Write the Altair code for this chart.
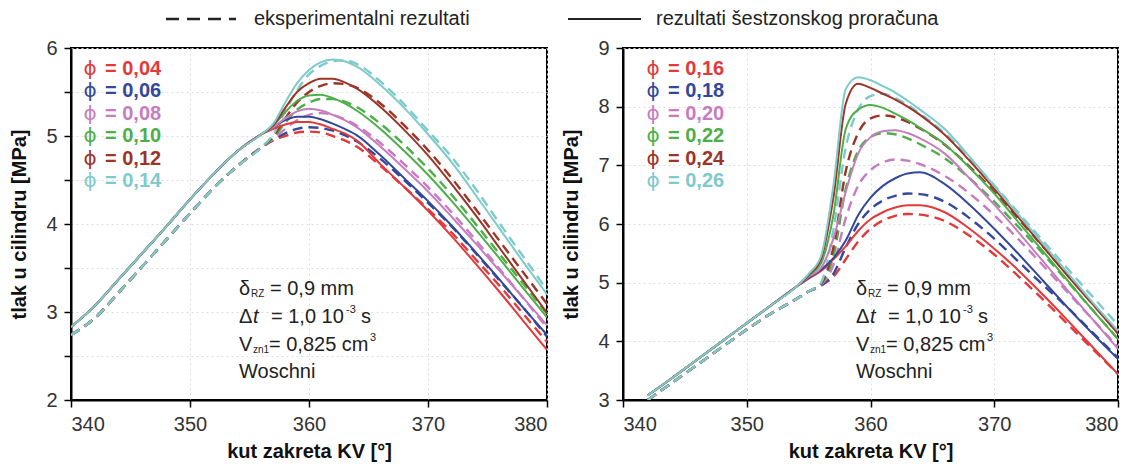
import altair as alt
import pandas as pd

FONT = "Liberation Sans"

# ---------------- data ----------------
x_left = [340, 342, 344, 346, 348, 350, 352, 354, 356, 357, 358, 359, 360, 361, 362,
          363, 364, 366, 368, 370, 372, 374, 376, 378, 380]
x_right = [342, 344, 346, 348, 350, 352, 354, 355, 356, 357, 358, 359, 360, 361, 362,
           363, 364, 366, 368, 370, 372, 374, 376, 378, 380]

phi_left = ["0,04", "0,06", "0,08", "0,10", "0,12", "0,14"]
phi_right = ["0,16", "0,18", "0,20", "0,22", "0,24", "0,26"]
colors = ["#E2393B", "#33489A", "#C77CC0", "#4DAE4A", "#9C3428", "#7FCACB"]

# left panel - six-zone calculation (solid)
calc_left_004 = [2.83, 3.07, 3.37, 3.67, 3.97, 4.28, 4.57, 4.83, 5.02, 5.08, 5.13, 5.16, 5.16, 5.13, 5.08, 5.03, 4.95, 4.68, 4.42, 4.15, 3.86, 3.55, 3.23, 2.90, 2.57]
calc_left_006 = [2.83, 3.07, 3.37, 3.67, 3.97, 4.28, 4.57, 4.83, 5.02, 5.10, 5.18, 5.22, 5.22, 5.19, 5.14, 5.08, 5.01, 4.78, 4.52, 4.26, 3.98, 3.68, 3.37, 3.05, 2.74]
calc_left_008 = [2.83, 3.07, 3.37, 3.67, 3.97, 4.28, 4.57, 4.83, 5.02, 5.10, 5.20, 5.28, 5.31, 5.29, 5.24, 5.18, 5.10, 4.88, 4.63, 4.37, 4.08, 3.78, 3.47, 3.16, 2.85]
calc_left_010 = [2.83, 3.07, 3.37, 3.67, 3.97, 4.28, 4.57, 4.83, 5.02, 5.12, 5.27, 5.40, 5.46, 5.47, 5.43, 5.37, 5.29, 5.08, 4.83, 4.56, 4.26, 3.94, 3.61, 3.27, 2.94]
calc_left_012 = [2.83, 3.07, 3.37, 3.67, 3.97, 4.28, 4.57, 4.83, 5.02, 5.12, 5.32, 5.50, 5.60, 5.65, 5.65, 5.61, 5.54, 5.33, 5.07, 4.78, 4.45, 4.10, 3.73, 3.36, 2.99]
calc_left_014 = [2.83, 3.07, 3.37, 3.67, 3.97, 4.28, 4.57, 4.83, 5.02, 5.14, 5.38, 5.60, 5.75, 5.84, 5.87, 5.85, 5.79, 5.58, 5.32, 5.02, 4.70, 4.33, 3.95, 3.57, 3.20]

# left panel - experiment (dashed)
exp_left_004 = [2.74, 2.93, 3.22, 3.52, 3.82, 4.12, 4.41, 4.66, 4.87, 4.95, 5.00, 5.04, 5.05, 5.04, 5.00, 4.95, 4.88, 4.66, 4.42, 4.17, 3.90, 3.60, 3.30, 2.98, 2.66]
exp_left_006 = [2.74, 2.93, 3.22, 3.52, 3.82, 4.12, 4.41, 4.66, 4.87, 4.96, 5.03, 5.08, 5.10, 5.09, 5.06, 5.01, 4.94, 4.74, 4.50, 4.24, 3.97, 3.67, 3.36, 3.05, 2.72]
exp_left_008 = [2.74, 2.93, 3.22, 3.52, 3.82, 4.12, 4.41, 4.66, 4.87, 4.97, 5.08, 5.18, 5.24, 5.26, 5.24, 5.19, 5.12, 4.92, 4.68, 4.42, 4.13, 3.82, 3.49, 3.16, 2.82]
exp_left_010 = [2.74, 2.93, 3.22, 3.52, 3.82, 4.12, 4.41, 4.66, 4.87, 4.98, 5.15, 5.30, 5.38, 5.42, 5.42, 5.39, 5.33, 5.14, 4.90, 4.63, 4.33, 4.00, 3.66, 3.32, 2.98]
exp_left_012 = [2.74, 2.93, 3.22, 3.52, 3.82, 4.12, 4.41, 4.66, 4.87, 5.00, 5.20, 5.38, 5.50, 5.57, 5.60, 5.59, 5.55, 5.37, 5.12, 4.84, 4.52, 4.17, 3.81, 3.45, 3.09]
exp_left_014 = [2.74, 2.93, 3.22, 3.52, 3.82, 4.12, 4.41, 4.66, 4.87, 5.02, 5.28, 5.52, 5.70, 5.80, 5.85, 5.86, 5.82, 5.62, 5.36, 5.06, 4.76, 4.40, 4.01, 3.63, 3.25]

# right panel - six-zone calculation (solid)
calc_right_016 = [3.08, 3.38, 3.69, 4.00, 4.31, 4.62, 4.93, 5.07, 5.20, 5.40, 5.62, 5.88, 6.08, 6.20, 6.28, 6.32, 6.32, 6.20, 5.92, 5.58, 5.20, 4.78, 4.34, 3.89, 3.44]
calc_right_018 = [3.08, 3.38, 3.69, 4.00, 4.31, 4.62, 4.93, 5.08, 5.22, 5.42, 5.72, 6.15, 6.45, 6.65, 6.78, 6.86, 6.88, 6.68, 6.33, 5.92, 5.48, 5.02, 4.56, 4.12, 3.70]
calc_right_020 = [3.08, 3.38, 3.69, 4.00, 4.31, 4.62, 4.93, 5.10, 5.25, 5.75, 6.55, 7.20, 7.48, 7.58, 7.60, 7.55, 7.46, 7.20, 6.78, 6.33, 5.85, 5.35, 4.85, 4.36, 3.87]
calc_right_022 = [3.08, 3.38, 3.69, 4.00, 4.31, 4.62, 4.93, 5.12, 5.33, 6.15, 7.62, 7.95, 8.03, 7.98, 7.88, 7.77, 7.64, 7.36, 6.96, 6.52, 6.02, 5.52, 5.02, 4.52, 4.04]
calc_right_024 = [3.08, 3.38, 3.69, 4.00, 4.31, 4.62, 4.93, 5.13, 5.40, 6.45, 8.05, 8.39, 8.32, 8.22, 8.12, 8.00, 7.86, 7.52, 7.08, 6.60, 6.10, 5.60, 5.10, 4.62, 4.13]
calc_right_026 = [3.08, 3.38, 3.69, 4.00, 4.31, 4.62, 4.93, 5.15, 5.45, 6.65, 8.30, 8.50, 8.45, 8.35, 8.24, 8.10, 7.95, 7.62, 7.15, 6.65, 6.15, 5.65, 5.15, 4.65, 4.18]

# right panel - experiment (dashed)
exp_right_016 = [3.00, 3.30, 3.60, 3.90, 4.20, 4.48, 4.72, 4.85, 4.95, 5.10, 5.40, 5.70, 5.92, 6.06, 6.14, 6.17, 6.16, 6.05, 5.80, 5.48, 5.10, 4.70, 4.28, 3.86, 3.44]
exp_right_018 = [3.00, 3.30, 3.60, 3.90, 4.20, 4.48, 4.72, 4.85, 4.95, 5.15, 5.60, 6.00, 6.25, 6.40, 6.48, 6.52, 6.51, 6.38, 6.10, 5.75, 5.35, 4.95, 4.56, 4.14, 3.72]
exp_right_020 = [3.00, 3.30, 3.60, 3.90, 4.20, 4.48, 4.72, 4.85, 4.96, 5.30, 6.10, 6.65, 6.92, 7.05, 7.10, 7.08, 7.02, 6.82, 6.52, 6.15, 5.73, 5.28, 4.82, 4.36, 3.90]
exp_right_022 = [3.00, 3.30, 3.60, 3.90, 4.20, 4.48, 4.72, 4.85, 4.97, 5.45, 6.60, 7.25, 7.48, 7.55, 7.53, 7.46, 7.36, 7.12, 6.78, 6.38, 5.94, 5.48, 5.00, 4.52, 4.04]
exp_right_024 = [3.00, 3.30, 3.60, 3.90, 4.20, 4.48, 4.72, 4.85, 4.98, 5.60, 6.90, 7.55, 7.80, 7.85, 7.82, 7.74, 7.63, 7.35, 6.98, 6.55, 6.08, 5.60, 5.11, 4.63, 4.14]
exp_right_026 = [3.00, 3.30, 3.60, 3.90, 4.20, 4.48, 4.72, 4.85, 5.00, 5.90, 7.30, 7.95, 8.18, 8.22, 8.15, 8.03, 7.88, 7.55, 7.12, 6.66, 6.18, 5.70, 5.22, 4.75, 4.28]

y_left_ticks = [2, 2.5, 3, 3.5, 4, 4.5, 5, 5.5, 6]
y_right_ticks = [3, 4, 5, 6, 7, 8, 9]
x_ticks = [340, 350, 360, 370, 380]

legend_exp = "eksperimentalni rezultati"
legend_calc = "rezultati šestzonskog proračuna"
x_title = "kut zakreta KV [°]"
y_title = "tlak u cilindru [MPa]"


def long_table(xs, phis, calc_series, exp_series):
    rows = []
    for phi, ys in zip(phis, calc_series):
        for x, y in zip(xs, ys):
            rows.append({"phi": phi, "kind": "calc", "x": x, "y": y})
    for phi, ys in zip(phis, exp_series):
        for x, y in zip(xs, ys):
            rows.append({"phi": phi, "kind": "exp", "x": x, "y": y})
    return pd.DataFrame(rows)


df_left = long_table(
    x_left, phi_left,
    [calc_left_004, calc_left_006, calc_left_008, calc_left_010, calc_left_012, calc_left_014],
    [exp_left_004, exp_left_006, exp_left_008, exp_left_010, exp_left_012, exp_left_014])
df_right = long_table(
    x_right, phi_right,
    [calc_right_016, calc_right_018, calc_right_020, calc_right_022, calc_right_024, calc_right_026],
    [exp_right_016, exp_right_018, exp_right_020, exp_right_022, exp_right_024, exp_right_026])

one = pd.DataFrame({"k": [0]})


def txt(s, x, y, size=20, weight="normal", style="normal", color="#222222",
        font=FONT, align="left"):
    return alt.Chart(one).mark_text(
        text=s, fontSize=size, fontWeight=weight, fontStyle=style, font=font,
        color=color, align=align, baseline="middle"
    ).encode(x=alt.value(x), y=alt.value(y))


def annotation(x0, y0):
    ls = 28
    parts = [
        txt("δ", x0, y0), txt("RZ", x0 + 12, y0 + 5, size=10),
        txt("= 0,9 mm", x0 + 31, y0),
        txt("Δ", x0, y0 + ls), txt("t", x0 + 14, y0 + ls, style="italic"),
        txt("= 1,0 10", x0 + 32, y0 + ls), txt("-3", x0 + 107, y0 + ls - 7, size=11),
        txt("s", x0 + 122, y0 + ls),
        txt("V", x0, y0 + 2 * ls), txt("zn1", x0 + 14, y0 + 2 * ls + 5, size=10),
        txt("= 0,825 cm", x0 + 30, y0 + 2 * ls), txt("3", x0 + 131, y0 + 2 * ls - 7, size=11),
        txt("Woschni", x0, y0 + 3 * ls - 1),
    ]
    return parts


def phi_legend(phis, xphi, xeq, y0, step):
    parts = []
    for i, (p, c) in enumerate(zip(phis, colors)):
        y = y0 + i * step
        parts.append(txt("ϕ", xphi, y, size=20, color=c, font="DejaVu Sans", align="center"))
        parts.append(txt("= " + p, xeq, y, size=20, weight="bold", color=c))
    return parts


def panel(df, phis, ydomain, yticks, width, height, leg_xphi, leg_xeq, ann_x0, extra=None):
    xaxis = alt.Axis(values=x_ticks, title=x_title, format="d")
    yaxis = alt.Axis(values=yticks, title=y_title,
                     labelExpr="datum.value % 1 == 0 ? format(datum.value, 'd') : ''")
    color = alt.Color("phi:N", scale=alt.Scale(domain=phis, range=colors), legend=None)
    X = alt.X("x:Q", scale=alt.Scale(domain=[340, 380], nice=False, zero=False), axis=xaxis)
    Y = alt.Y("y:Q", scale=alt.Scale(domain=ydomain, nice=False, zero=False), axis=yaxis)
    base = alt.Chart(df)
    exp = base.transform_filter(alt.datum.kind == "exp").mark_line(
        strokeWidth=2.4, strokeDash=[10, 6], interpolate="monotone", clip=True
    ).encode(x=X, y=Y, color=color, detail="phi:N")
    calc = base.transform_filter(alt.datum.kind == "calc").mark_line(
        strokeWidth=2, interpolate="monotone", clip=True
    ).encode(x=X, y=Y, color=color, detail="phi:N")
    layers = [exp, calc]
    layers += phi_legend(phis, leg_xphi, leg_xeq, 21, 22.4)
    layers += annotation(ann_x0, 241)
    if extra:
        layers += extra
    return alt.layer(*layers).properties(width=width, height=height)


top_legend = [
    alt.Chart(one).mark_rule(strokeWidth=2.5, strokeDash=[13, 8], color="#222222").encode(
        x=alt.value(95), x2=alt.value(165), y=alt.value(-29)),
    txt(legend_exp, 183, -29, size=20),
    alt.Chart(one).mark_rule(strokeWidth=2, color="#222222").encode(
        x=alt.value(497), x2=alt.value(570), y=alt.value(-29)),
    txt(legend_calc, 585, -29, size=20),
]

left = panel(df_left, phi_left, [2, 6], y_left_ticks, 476, 352, 19, 34, 168, extra=top_legend)
right = panel(df_right, phi_right, [3, 9], y_right_ticks, 495, 352, 30, 45, 233)

chart = alt.hconcat(left, right, spacing=76, bounds="flush").properties(
    padding={"left": 0, "top": 0, "right": 5, "bottom": 5}
).configure_view(
    stroke="black", strokeWidth=2
).configure_axis(
    labelFont=FONT, labelFontSize=20, labelColor="#333333", labelPadding=7,
    titleFont=FONT, titleFontSize=20, titleFontWeight="bold", titleColor="#111111",
    tickSize=7, tickColor="black", tickWidth=1.5,
    domainColor="black", domainWidth=2,
    gridColor="#dddddd", gridDash=[2, 3], gridWidth=1,
).configure_axisX(titlePadding=7).configure_axisY(titlePadding=16)

chart.save("out.html", embed_options={"renderer": "svg", "actions": False})
